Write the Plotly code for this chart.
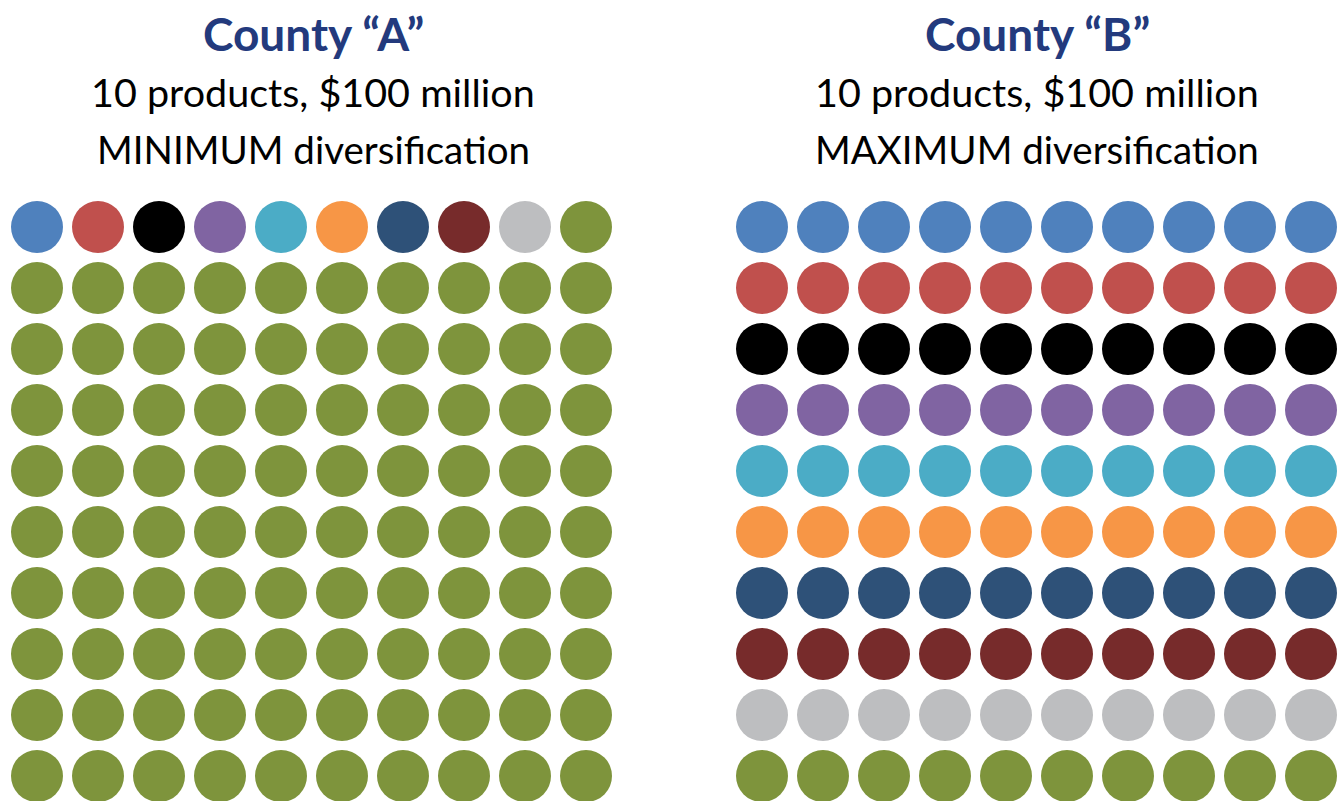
import plotly.graph_objects as go

# ---- data ----
products = ["Product 1", "Product 2", "Product 3", "Product 4", "Product 5",
            "Product 6", "Product 7", "Product 8", "Product 9", "Product 10"]
product_colors = ["#4f81bd", "#c0504d", "#000000", "#8064a2", "#4bacc6",
                  "#f79646", "#2e5178", "#772b2b", "#bdbec0", "#7e943c"]
county_a_millions = [1, 1, 1, 1, 1, 1, 1, 1, 1, 91]
county_b_millions = [10, 10, 10, 10, 10, 10, 10, 10, 10, 10]
titles = ["County \u201cA\u201d", "County \u201cB\u201d"]
subtitles = ["10 products, $100 million", "10 products, $100 million"]
labels = ["MINIMUM diversification", "MAXIMUM diversification"]

# ---- layout constants ----
W, H = 1343, 801
N_COLS = 10
STEP = 61
DOT = 52
grid_left = [37, 762]
grid_top = 227
text_cx = [313, 1037]
TITLE_COLOR = "#233a7d"
FONT = "Lato"

fig = go.Figure()

for g, values in enumerate([county_a_millions, county_b_millions]):
    xs, ys, cs, hs = [], [], [], []
    k = 0
    for p, v in enumerate(values):
        for _ in range(v):
            r, c = divmod(k, N_COLS)
            xs.append(grid_left[g] + c * STEP)
            ys.append(grid_top + r * STEP)
            cs.append(product_colors[p])
            hs.append(f"{products[p]}: ${v} million")
            k += 1
    fig.add_trace(go.Scatter(
        x=xs, y=ys, mode="markers",
        marker=dict(size=DOT, color=cs, line=dict(width=0)),
        hovertext=hs, hoverinfo="text", showlegend=False,
    ))
    fig.add_annotation(x=text_cx[g], y=33, xref="x", yref="y", text=f"<b>{titles[g]}</b>",
                       showarrow=False, font=dict(family=FONT, size=46, color=TITLE_COLOR),
                       xanchor="center", yanchor="middle")
    fig.add_annotation(x=text_cx[g], y=91, xref="x", yref="y", text=subtitles[g],
                       showarrow=False, font=dict(family=FONT, size=39.5, color="#000000"),
                       xanchor="center", yanchor="middle")
    fig.add_annotation(x=text_cx[g], y=149, xref="x", yref="y", text=labels[g],
                       showarrow=False, font=dict(family=FONT, size=38.5, color="#000000"),
                       xanchor="center", yanchor="middle")

fig.update_layout(
    width=W, height=H,
    margin=dict(l=0, r=0, t=0, b=0),
    paper_bgcolor="white", plot_bgcolor="white",
    xaxis=dict(range=[0, W], visible=False, fixedrange=True),
    yaxis=dict(range=[H, 0], visible=False, fixedrange=True),
)

fig.write_html("out.html", config={"displayModeBar": False},
               post_script="document.body.style.margin='0';document.body.style.overflow='hidden';")
